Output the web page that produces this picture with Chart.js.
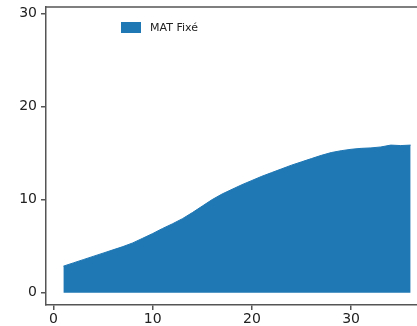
<!DOCTYPE html>
<html lang="fr">
<head>
  <meta charset="UTF-8" />
  <title>MAT Fixé</title>
  <script src="https://cdn.jsdelivr.net/npm/chart.js"></script>
  <style>
    body { margin:0; background:#fff; overflow:hidden; }
    /* the reference is a cropped figure: the plot runs past the right edge */
    #wrap { width:417px; height:326px; overflow:hidden; }
    #chart { display:block; }
  </style>
</head>
<body>
  <div id="wrap"><canvas id="chart" width="428" height="326"></canvas></div>
  <script>
    // data
    const xValues = [1,2,3,4,5,6,7,8,9,10,11,12,13,14,15,16,17,18,19,20,21,22,23,24,25,26,27,28,29,30,31,32,33,34,35,36];
    const matFixe = [2.85,3.2,3.55,3.9,4.25,4.6,4.95,5.35,5.85,6.35,6.9,7.4,7.95,8.6,9.3,10.0,10.6,11.1,11.6,12.05,12.5,12.9,13.3,13.7,14.05,14.4,14.75,15.05,15.25,15.4,15.5,15.55,15.65,15.85,15.8,15.85];
    const seriesLabel = 'MAT Fixé';
    const xTicks = [0,10,20,30];
    const yTicks = [0,10,20,30];

    const blue = '#1f77b4';
    const axisColor = '#555';

    // top spine + in-plot legend
    const extras = {
      id: 'extras',
      afterDraw(chart) {
        const ctx = chart.ctx, a = chart.chartArea;
        ctx.save();
        ctx.strokeStyle = axisColor;
        ctx.lineWidth = 1.5;
        ctx.beginPath();
        ctx.moveTo(a.left, a.top);
        ctx.lineTo(a.right, a.top);
        ctx.stroke();
        const ds = chart.data.datasets[0];
        ctx.fillStyle = ds.backgroundColor;
        ctx.fillRect(121, 22, 20, 11);
        ctx.fillStyle = '#222';
        ctx.font = '11px "DejaVu Sans"';
        ctx.textBaseline = 'middle';
        ctx.fillText(ds.label, 150, 28);
        ctx.restore();
      }
    };

    new Chart(document.getElementById('chart'), {
      type: 'line',
      data: {
        datasets: [{
          label: seriesLabel,
          data: xValues.map((x, i) => ({x: x, y: matFixe[i]})),
          borderColor: blue,
          backgroundColor: blue,
          borderWidth: 1,
          pointRadius: 0,
          tension: 0,
          fill: 'origin'
        }]
      },
      options: {
        responsive: false,
        animation: false,
        layout: { padding: { top: 7, right: 0, left: 0, bottom: 0 } },
        plugins: { legend: { display: false }, tooltip: { enabled: false } },
        scales: {
          x: {
            type: 'linear', min: -0.75, max: 37.75,
            afterBuildTicks: s => { s.ticks = xTicks.map(v => ({value: v})); },
            afterFit: s => { s.height = 21; s.paddingLeft = 0; s.paddingRight = 0; },
            grid: { display: true, drawOnChartArea: false, drawTicks: true, tickLength: 5, color: axisColor, lineWidth: 1.5 },
            border: { display: true, color: axisColor, width: 1.5 },
            ticks: { color: '#222', font: { family: 'DejaVu Sans', size: 14 }, padding: 1, maxRotation: 0 }
          },
          y: {
            min: -1.32, max: 30.68,
            afterBuildTicks: s => { s.ticks = yTicks.map(v => ({value: v})); },
            afterFit: s => { s.width = 46; s.paddingTop = 0; s.paddingBottom = 0; },
            grid: { display: true, drawOnChartArea: false, drawTicks: true, tickLength: 5, color: axisColor, lineWidth: 1.5 },
            border: { display: true, color: axisColor, width: 1.5 },
            ticks: { color: '#222', font: { family: 'DejaVu Sans', size: 14 }, padding: 4 }
          }
        }
      },
      plugins: [extras]
    });
  </script>
</body>
</html>
